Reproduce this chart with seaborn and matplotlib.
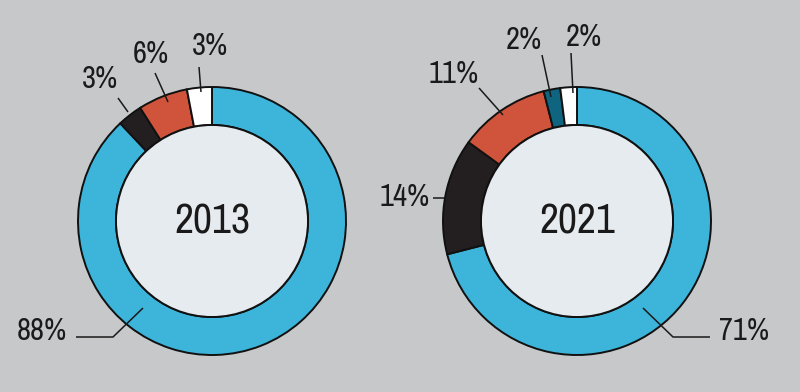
import matplotlib
matplotlib.use("Agg")
import matplotlib.pyplot as plt
from matplotlib import font_manager
from matplotlib.patches import Circle
import seaborn as sns

# data
years = ["2013", "2021"]
shares_2013 = [88, 3, 6, 3]
shares_2021 = [71, 14, 11, 2, 2]
colors_2013 = ["#3db4da", "#231f20", "#cf543b", "#ffffff"]
colors_2021 = ["#3db4da", "#231f20", "#cf543b", "#0f6580", "#ffffff"]
labels_2013 = ["88%", "3%", "6%", "3%"]
labels_2021 = ["71%", "14%", "11%", "2%", "2%"]

H = 392  # image height, to flip pixel y


def fy(y):
    return H - y


# the reference uses a light condensed face, pick one if there is any
font_name, font_stretch = "DejaVu Sans", "normal"
entries = font_manager.fontManager.ttflist
narrow = [f for f in entries if "Narrow" in f.name or "Condensed" in f.name]
cond = [f for f in entries if str(f.stretch) in ("condensed", "semi-condensed",
                                                 "extra-condensed")]
if narrow:
    font_name = narrow[0].name
elif cond:
    font_name, font_stretch = cond[0].name, str(cond[0].stretch)

sns.set_theme(style="white")
plt.rcParams["font.family"] = [font_name, "DejaVu Sans"]
plt.rcParams["font.stretch"] = font_stretch
plt.rcParams["font.weight"] = "light"

bg = "#c7c8ca"
fig = plt.figure(figsize=(8, 3.92), dpi=100, facecolor=bg)
ax = fig.add_axes([0, 0, 1, 1])
ax.set_facecolor(bg)

R, W = 134, 38
centers = [(212, 221), (577, 221)]
shares = [shares_2013, shares_2021]
colors = [colors_2013, colors_2021]

for (cx, cy), vals, cols, yr in zip(centers, shares, colors, years):
    ax.pie(vals, colors=cols, startangle=90, counterclock=False,
           center=(cx, fy(cy)), radius=R, frame=True,
           wedgeprops=dict(width=W, edgecolor="#111111", linewidth=1.4))
    ax.add_patch(Circle((cx, fy(cy)), R - W, facecolor="#e6ebef",
                        edgecolor="#111111", linewidth=1.4, zorder=3))
    ax.text(cx, fy(cy), yr, ha="center", va="center", fontsize=30,
            color="#1a1a1a", zorder=4)

ax.set_xlim(0, 800)
ax.set_ylim(0, H)
ax.set_aspect("equal")
ax.axis("off")

# label positions (text centre) and leader lines, in image pixels
label_pos_2013 = [(42, 331), (100, 79), (151, 54), (210, 46)]
leaders_2013 = [
    [(76, 337), (113, 337), (143, 308)],
    [(118, 98), (128, 112)],
    [(155, 73), (168, 102)],
    [(199, 67), (201, 92)],
]
label_pos_2021 = [(744, 331), (405, 197), (454, 74), (524, 40), (584, 37)]
leaders_2021 = [
    [(643, 308), (673, 337), (710, 337)],
    [(433, 198), (445, 198)],
    [(479, 88), (503, 115)],
    [(542, 55), (551, 97)],
    [(571, 53), (573, 93)],
]

for labels, pos, leads in [(labels_2013, label_pos_2013, leaders_2013),
                           (labels_2021, label_pos_2021, leaders_2021)]:
    for lab, (x, y), pts in zip(labels, pos, leads):
        ax.text(x, fy(y), lab, ha="center", va="center", fontsize=22,
                color="#1a1a1a", zorder=5)
        ax.plot([p[0] for p in pts], [fy(p[1]) for p in pts],
                color="#1a1a1a", lw=1.1, zorder=5, solid_capstyle="butt")

fig.savefig("out.png", dpi=100, facecolor=bg)
